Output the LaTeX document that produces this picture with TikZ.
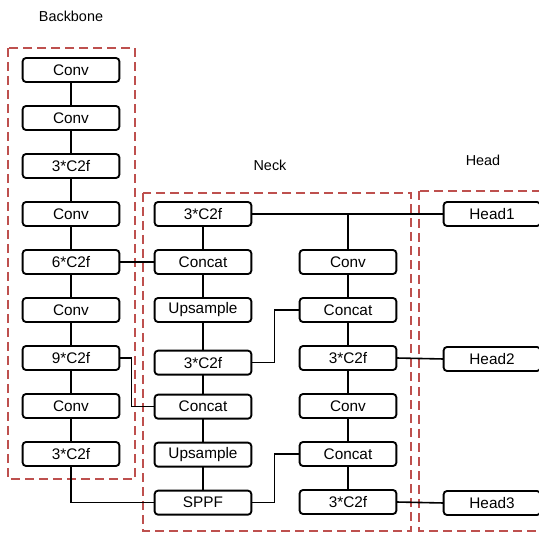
\documentclass[tikz,border=0pt]{standalone}
\usepackage{fontspec}
\setmainfont{Liberation Sans}
\usetikzlibrary{positioning}
\definecolor{grpRed}{RGB}{190,80,78}
\tikzset{
    block/.style={rectangle, rounded corners=2.5pt, draw=black, line width=1.4pt,
                  fill=white, minimum width=72.5pt, minimum height=18pt, inner sep=2pt,
                  outer sep=0pt, font=\fontsize{11.5}{12}\selectfont},
    group/.style={draw=grpRed, line width=1.5pt, dash pattern=on 6.5pt off 4pt},
    title/.style={font=\fontsize{10.8}{12}\selectfont},
    link/.style={line width=1.2pt, draw=black}
}
\begin{document}
\begin{tikzpicture}[
    x=0.75pt, y=-0.75pt,
    node distance=18pt
]
  \useasboundingbox (0,0) rectangle (539,534);

  % Groups
  \draw[group] (8,48) rectangle (135,479);
  \draw[group] (143,193) rectangle (411,531);
  \draw[group] (419,191) rectangle (560,531);
  \node[title] (lbb) at (71,16) {Backbone};
  \node[title] (lnk) at (270,165) {Neck};
  \node[title] (lhd) at (483,160) {Head};

  % Backbone
  \node[block] (bb1) at (71,70) {Conv};
  \node[block] (bb2) [below=of bb1] {Conv};
  \node[block] (bb3) [below=of bb2] {3*C2f};
  \node[block] (bb4) [below=of bb3] {Conv};
  \node[block] (bb5) [below=of bb4] {6*C2f};
  \node[block] (bb6) [below=of bb5] {Conv};
  \node[block] (bb7) [below=of bb6] {9*C2f};
  \node[block] (bb8) [below=of bb7] {Conv};
  \node[block] (bb9) [below=of bb8] {3*C2f};

  % Neck, first column
  \node[block] (c1a) at (203,214) {3*C2f};
  \node[block] (c1b) [below=of c1a] {Concat};
  \node[block] (c1c) [below=of c1b] {Upsample};
  \node[block] (c1d) [below=21.5pt of c1c] {3*C2f};
  \node[block] (c1e) [below=15pt of c1d] {Concat};
  \node[block] (c1f) [below=of c1e] {Upsample};
  \node[block] (sppf) [below=of c1f] {SPPF};

  % Neck, second column
  \node[block] (c2a) at (348,262) {Conv};
  \node[block] (c2b) [below=of c2a] {Concat};
  \node[block] (c2c) [below=of c2b] {3*C2f};
  \node[block] (c2d) [below=of c2c] {Conv};
  \node[block] (c2e) [below=of c2d] {Concat};
  \node[block] (c2f) [below=of c2e] {3*C2f};

  % Head
  \node[block] (h1) at (492,214) {Head1};
  \node[block] (h2) at (492,359) {Head2};
  \node[block] (h3) at (492,503) {Head3};

  % Edges
  \foreach \a/\b in {bb1/bb2, bb2/bb3, bb3/bb4, bb4/bb5, bb5/bb6, bb6/bb7, bb7/bb8, bb8/bb9,
                     c1a/c1b, c1b/c1c, c1c/c1d, c1d/c1e, c1e/c1f, c1f/sppf,
                     c2a/c2b, c2b/c2c, c2c/c2d, c2d/c2e, c2e/c2f}
    \draw[link] (\a) -- (\b);
  \draw[link] (bb5.east) -- (c1b.west);
  \draw[link] (bb7.east) -- ++(12,0) |- (c1e.west);
  \draw[link] (bb9.south) |- (sppf.west);
  \draw[link] (c1d.east) -- ++(23,0) |- (c2b.west);
  \draw[link] (sppf.east) -- ++(23,0) |- (c2e.west);
  \draw[link] (c1a.east) -- (h1.west);
  \draw[link] (c2a.north) -- (c2a.north |- c1a.east);
  \draw[link] (c2c.east) -- (h2.west);
  \draw[link] (c2f.east) -- (h3.west);

\end{tikzpicture}
\end{document}
